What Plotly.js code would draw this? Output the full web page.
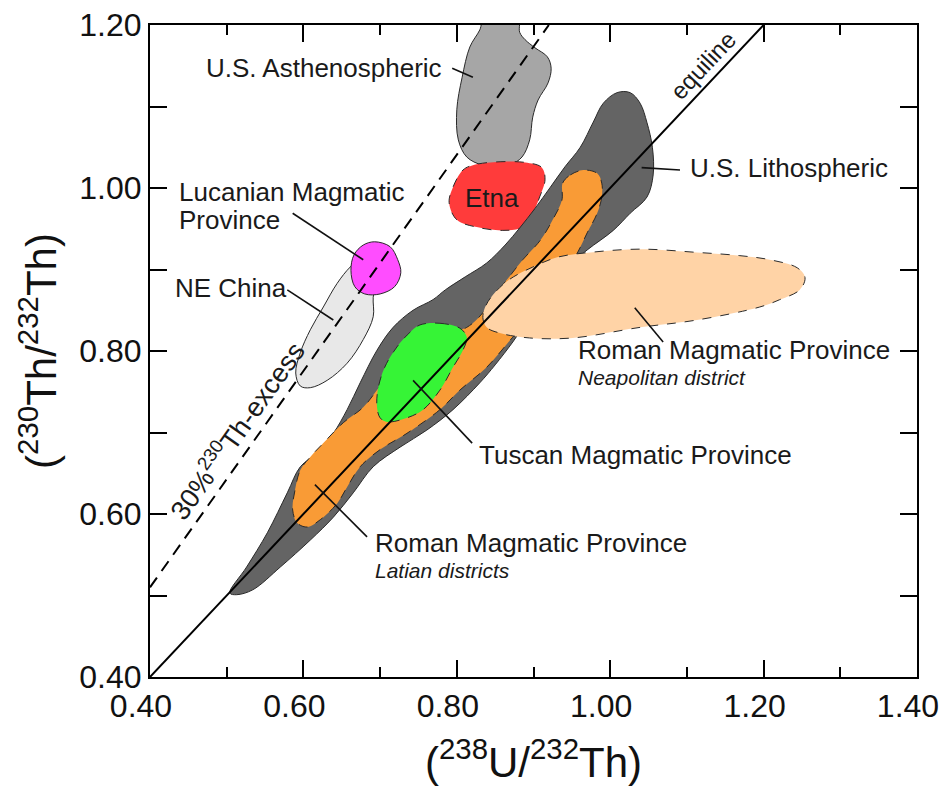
<!DOCTYPE html>
<html>
<head>
<meta charset="utf-8">
<script src="https://cdn.plot.ly/plotly-3.0.1.min.js"></script>
<style>
  html, body { margin: 0; padding: 0; background: #ffffff; }
  #chart { width: 951px; height: 798px; }
</style>
</head>
<body>
<div id="chart"></div>
<script>
// Field outlines in activity-ratio space: x = (238U/232Th), y = (230Th/232Th)

// U.S. Asthenospheric
const asthenoX = [0.836, 0.830, 0.817, 0.807, 0.800, 0.802, 0.813, 0.833, 0.852, 0.869, 0.885, 0.895, 0.899, 0.906, 0.919, 0.923, 0.918, 0.902, 0.889, 0.882, 0.880];
const asthenoY = [1.209, 1.194, 1.173, 1.136, 1.096, 1.059, 1.038, 1.028, 1.025, 1.028, 1.038, 1.059, 1.087, 1.108, 1.129, 1.147, 1.161, 1.172, 1.182, 1.191, 1.209];

// Etna
const etnaX = [0.821, 0.852, 0.892, 0.911, 0.915, 0.908, 0.899, 0.886, 0.860, 0.826, 0.800, 0.790, 0.795, 0.808];
const etnaY = [1.028, 1.032, 1.031, 1.025, 1.010, 0.989, 0.969, 0.952, 0.948, 0.952, 0.961, 0.982, 1.001, 1.022];

// U.S. Lithospheric
const lithoX = [0.504, 0.526, 0.553, 0.579, 0.596, 0.618, 0.639, 0.657, 0.674, 0.696, 0.717, 0.743, 0.769, 0.785, 0.811, 0.839, 0.863, 0.882, 0.902, 0.922, 0.941, 0.961, 0.978, 0.991, 1.009, 1.026, 1.039, 1.048, 1.055, 1.056, 1.048, 1.026, 1.004, 0.970, 0.948, 0.922, 0.895, 0.873, 0.850, 0.830, 0.795, 0.761, 0.726, 0.691, 0.665, 0.639, 0.609, 0.570, 0.534, 0.513];
const lithoY = [0.503, 0.535, 0.577, 0.626, 0.658, 0.675, 0.699, 0.728, 0.761, 0.801, 0.829, 0.850, 0.863, 0.875, 0.891, 0.908, 0.930, 0.951, 0.975, 1.001, 1.026, 1.050, 1.081, 1.104, 1.117, 1.117, 1.104, 1.080, 1.050, 1.016, 0.989, 0.969, 0.948, 0.924, 0.906, 0.875, 0.841, 0.811, 0.783, 0.761, 0.728, 0.703, 0.682, 0.658, 0.626, 0.596, 0.568, 0.535, 0.507, 0.501];

// Roman Magmatic Province, Latian districts
const latiumX = [0.938, 0.948, 0.965, 0.983, 0.989, 0.989, 0.983, 0.970, 0.957, 0.935, 0.909, 0.873, 0.839, 0.804, 0.778, 0.735, 0.700, 0.674, 0.657, 0.644, 0.622, 0.605, 0.592, 0.586, 0.589, 0.596, 0.609, 0.626, 0.652, 0.678, 0.696, 0.726, 0.765, 0.813, 0.834, 0.847, 0.865, 0.886, 0.909, 0.925, 0.937];
const latiumY = [1.006, 1.016, 1.022, 1.018, 1.006, 0.989, 0.969, 0.945, 0.920, 0.887, 0.854, 0.817, 0.780, 0.752, 0.728, 0.699, 0.679, 0.658, 0.633, 0.613, 0.593, 0.584, 0.589, 0.605, 0.629, 0.654, 0.670, 0.687, 0.712, 0.731, 0.752, 0.789, 0.814, 0.829, 0.847, 0.866, 0.887, 0.912, 0.936, 0.961, 0.985];

// Tuscan Magmatic Province
const tuscanX = [0.752, 0.778, 0.804, 0.813, 0.808, 0.795, 0.778, 0.756, 0.735, 0.709, 0.700, 0.696, 0.697, 0.706, 0.722, 0.739];
const tuscanY = [0.832, 0.834, 0.828, 0.817, 0.801, 0.780, 0.752, 0.728, 0.718, 0.713, 0.718, 0.731, 0.752, 0.780, 0.805, 0.823];

// Roman Magmatic Province, Neapolitan district
const naplesX = [0.834, 0.838, 0.850, 0.869, 0.899, 0.931, 0.974, 1.039, 1.113, 1.169, 1.208, 1.244, 1.254, 1.247, 1.221, 1.195, 1.113, 1.039, 0.951, 0.895, 0.856, 0.839];
const naplesY = [0.841, 0.856, 0.872, 0.888, 0.903, 0.915, 0.921, 0.925, 0.921, 0.917, 0.912, 0.902, 0.890, 0.875, 0.863, 0.854, 0.838, 0.829, 0.816, 0.816, 0.822, 0.829];

// NE China
const chinaX = [0.596, 0.590, 0.596, 0.609, 0.626, 0.644, 0.661, 0.676, 0.689, 0.695, 0.691, 0.691, 0.678, 0.657, 0.631, 0.609];
const chinaY = [0.757, 0.773, 0.798, 0.826, 0.854, 0.883, 0.903, 0.914, 0.909, 0.887, 0.866, 0.842, 0.814, 0.785, 0.764, 0.755];

// Lucanian Magmatic Province
const lucaniaX = [0.693, 0.713, 0.723, 0.727, 0.719, 0.700, 0.680, 0.667, 0.662, 0.666, 0.678];
const lucaniaY = [0.934, 0.928, 0.912, 0.896, 0.879, 0.870, 0.870, 0.879, 0.899, 0.918, 0.930];

// Reference lines: equiline and 30% 230Th-excess
const equiX = [0.40, 1.20];
const equiY = [0.40, 1.20];
const excessX = [0.40, 0.92];
const excessY = [0.51, 1.20];

// Axis ticks
const xTicks = [0.40, 0.60, 0.80, 1.00, 1.20, 1.40];
const yTicks = [0.40, 0.60, 0.80, 1.00, 1.20];

function closed(a) { return a.concat([a[0]]); }

function field(xs, ys, fillcolor, dash) {
  return {
    type: 'scatter', mode: 'lines',
    x: closed(xs), y: closed(ys),
    fill: 'toself', fillcolor: fillcolor,
    line: { color: '#2a2a2a', width: 1, shape: 'spline', smoothing: 1, dash: dash },
    hoverinfo: 'skip', showlegend: false
  };
}

function leader(x0, y0, x1, y1) {
  return {
    type: 'scatter', mode: 'lines', x: [x0, x1], y: [y0, y1],
    line: { color: '#111111', width: 1.6 }, hoverinfo: 'skip', showlegend: false
  };
}

const traces = [
  field(asthenoX, asthenoY, '#a6a6a6', 'solid'),
  field(etnaX, etnaY, '#ff3b3b', 'dash'),
  field(lithoX, lithoY, '#646464', 'solid'),
  field(latiumX, latiumY, '#f99b36', 'dash'),
  field(tuscanX, tuscanY, '#36f436', 'dash'),
  field(naplesX, naplesY, '#ffd3a6', 'dash'),
  field(chinaX, chinaY, '#e8e8e8', 'solid'),
  field(lucaniaX, lucaniaY, '#ff4dff', 'solid'),
  { type: 'scatter', mode: 'lines', x: excessX, y: excessY,
    line: { color: '#000000', width: 2, dash: '12px,8px' }, hoverinfo: 'skip', showlegend: false },
  { type: 'scatter', mode: 'lines', x: equiX, y: equiY,
    line: { color: '#000000', width: 2 }, hoverinfo: 'skip', showlegend: false },
  // label leaders
  leader(0.794, 1.147, 0.821, 1.136),
  leader(0.586, 0.969, 0.678, 0.912),
  leader(0.579, 0.875, 0.639, 0.838),
  leader(1.041, 1.025, 1.091, 1.022),
  leader(1.032, 0.853, 1.069, 0.811),
  leader(0.743, 0.764, 0.820, 0.687),
  leader(0.615, 0.636, 0.683, 0.572)
];

const LF = { family: 'Liberation Sans, Arial, sans-serif', size: 26, color: '#1a1a1a' };
const IF = { family: 'Liberation Sans, Arial, sans-serif', size: 21, color: '#1a1a1a', style: 'italic' };

function label(text, x, y, font, extra) {
  return Object.assign({ text: text, x: x, y: y, xref: 'x', yref: 'y',
    xanchor: 'left', yanchor: 'middle', showarrow: false, font: font }, extra || {});
}

const annotations = [
  label('U.S. Asthenospheric', 0.470, 1.147, LF),
  label('Lucanian Magmatic', 0.435, 0.995, LF),
  label('Province', 0.435, 0.961, LF),
  label('NE China', 0.430, 0.877, LF),
  label('U.S. Lithospheric', 1.101, 1.025, LF),
  label('Roman Magmatic Province', 0.956, 0.801, LF),
  label('Neapolitan district', 0.956, 0.767, IF),
  label('Tuscan Magmatic Province', 0.826, 0.672, LF),
  label('Roman Magmatic Province', 0.691, 0.564, LF),
  label('Latian districts', 0.691, 0.531, IF),
  label('Etna', 0.846, 0.988, LF, { xanchor: 'center' }),
  label('equiline', 1.121, 1.150, Object.assign({}, LF, { size: 24 }), { xanchor: 'center', textangle: -46.8 }),
  label('30%<sup>230</sup>Th-excess', 0.512, 0.703, Object.assign({}, LF, { size: 27 }), { xanchor: 'center', textangle: -54.6 })
];

const axisCommon = {
  showline: true, linecolor: '#000000', linewidth: 2, mirror: 'ticks',
  ticks: 'inside', ticklen: 17, tickwidth: 2, tickcolor: '#000000',
  showgrid: false, zeroline: false, tickformat: '.2f',
  tickfont: { family: 'Liberation Sans, Arial, sans-serif', size: 32, color: '#111111' }
};

const layout = {
  width: 951, height: 798,
  margin: { l: 150, r: 34, t: 25, b: 121 },
  paper_bgcolor: '#ffffff', plot_bgcolor: '#ffffff',
  showlegend: false,
  xaxis: Object.assign({}, axisCommon, {
    range: [0.4, 1.4], tickvals: xTicks, ticklabelshift: -9,
    minor: { ticks: 'inside', dtick: 0.1, ticklen: 10, tickwidth: 2, tickcolor: '#000000' },
    title: { text: '(<sup>238</sup>U/<sup>232</sup>Th)', standoff: 24,
      font: { family: 'Liberation Sans, Arial, sans-serif', size: 42, color: '#111111' } }
  }),
  yaxis: Object.assign({}, axisCommon, {
    range: [0.4, 1.2], tickvals: yTicks,
    minor: { ticks: 'inside', dtick: 0.1, ticklen: 17, tickwidth: 2, tickcolor: '#000000' },
    title: { text: '(<sup>230</sup>Th/<sup>232</sup>Th)', standoff: 10,
      font: { family: 'Liberation Sans, Arial, sans-serif', size: 42, color: '#111111' } }
  }),
  annotations: annotations
};

Plotly.newPlot('chart', traces, layout, { displayModeBar: false, staticPlot: true });
</script>
</body>
</html>
